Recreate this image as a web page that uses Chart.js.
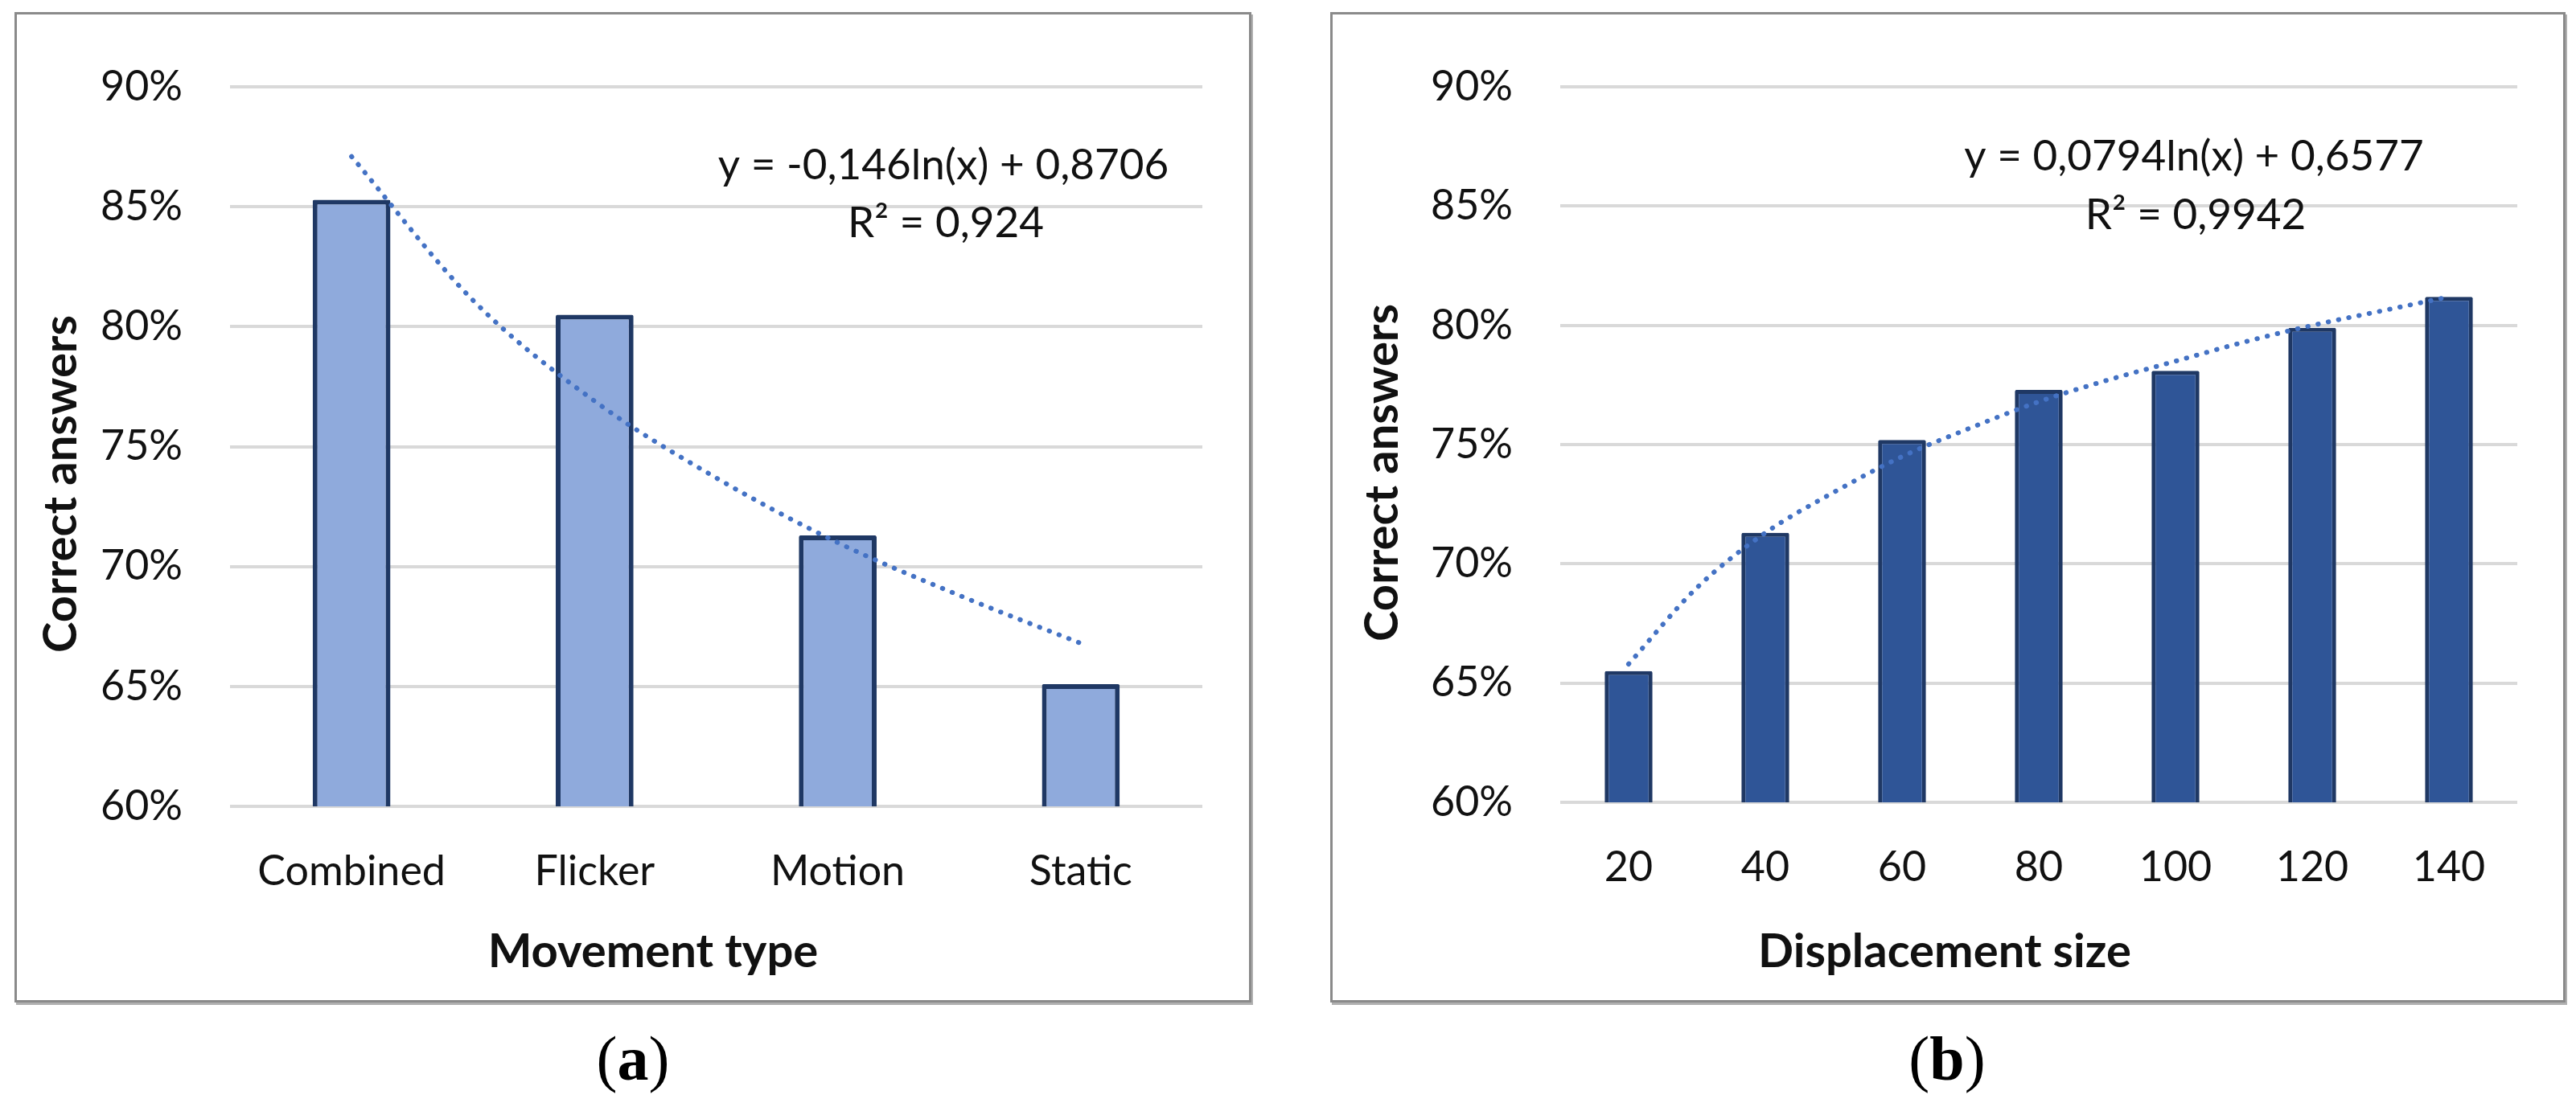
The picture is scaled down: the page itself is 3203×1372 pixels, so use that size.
<!DOCTYPE html>
<html>
<head>
<meta charset="utf-8">
<script src="https://cdn.jsdelivr.net/npm/chart.js@4.4.1/dist/chart.umd.min.js"></script>
<style>
  html, body { margin: 0; padding: 0; background: #fff; }
  body { width: 3203px; height: 1372px; position: relative; overflow: hidden; }
  .box { position: absolute; box-sizing: border-box; border: 3px solid #8a8a8a; box-shadow: 2px 3px 0 #b0b0b0; background: #fff; }
  .box canvas { display: block; }
  .cap { position: absolute; top: 1278px; width: 200px; text-align: center; font-family: 'Liberation Serif', 'DejaVu Serif', serif; font-size: 78px; line-height: 78px; color: #000; }
</style>
</head>
<body>
<div class="box" id="boxA" style="left:18px; top:15px; width:1538px; height:1232px;"><canvas id="chartA"></canvas></div>
<div class="box" id="boxB" style="left:1654px; top:15px; width:1536px; height:1232px;"><canvas id="chartB"></canvas></div>
<div class="cap" style="left:687px;">(<b>a</b>)</div>
<div class="cap" style="left:2321px;">(<b>b</b>)</div>
<script>
// data (percent)
const movementTypes = ['Combined', 'Flicker', 'Motion', 'Static'];
const movementCorrect = [85.3, 80.5, 71.3, 65.1];
const movementTrendX = [0, 0.5, 1, 1.5, 2, 2.5, 3];
const movementTrendY = [87.1, 81.1, 76.9, 73.7, 71.0, 68.8, 66.8];

const displacementSizes = ['20', '40', '60', '80', '100', '120', '140'];
const displacementCorrect = [65.5, 71.3, 75.2, 77.3, 78.1, 79.9, 81.2];
const displacementTrendX = [0, 0.5, 1, 1.5, 2, 2.5, 3, 3.5, 4, 4.5, 5, 5.5, 6];
const displacementTrendY = [65.8, 69.0, 71.3, 73.0, 74.5, 75.7, 76.8, 77.7, 78.5, 79.3, 80.0, 80.6, 81.2];

const yMin = 60, yMax = 90, yStep = 5;

Chart.defaults.font.family = 'Lato, "Open Sans", sans-serif';
Chart.defaults.color = '#111';
Chart.defaults.animation = false;

// draws axis titles and trendline equations at fixed spots
const extraText = {
    id: 'extraText',
    afterDraw(chart, args, opts) {
        const ctx = chart.ctx;
        (opts.items || []).forEach(it => {
            ctx.save();
            ctx.font = it.font;
            ctx.fillStyle = '#111';
            ctx.textAlign = 'center';
            ctx.textBaseline = 'alphabetic';
            ctx.translate(it.x, it.y);
            if (it.rotate) ctx.rotate(-Math.PI / 2);
            ctx.fillText(it.text, 0, 0);
            ctx.restore();
        });
    }
};

function makeChart(id, boxId, labels, values, trendX, trendY, look) {
    const box = document.getElementById(boxId);
    const canvas = document.getElementById(id);
    canvas.width = box.clientWidth;
    canvas.height = box.clientHeight;
    canvas.style.width = box.clientWidth + 'px';
    canvas.style.height = box.clientHeight + 'px';

    return new Chart(canvas.getContext('2d'), {
        type: 'bar',
        data: {
            labels: labels,
            datasets: [{
                type: 'bar',
                xAxisID: 'x',
                data: values,
                backgroundColor: look.fill,
                borderColor: '#1F3864',
                borderWidth: look.border,
                borderSkipped: false,
                borderRadius: 2,
                grouped: false,
                barPercentage: look.barPct,
                categoryPercentage: 1,
                order: 1
            }, {
                type: 'line',
                xAxisID: 'xt',
                data: trendX.map((x, i) => ({ x: x, y: trendY[i] })),
                borderColor: '#4472C4',
                borderWidth: 6,
                borderDash: [0.5, 12.5],
                borderCapStyle: 'round',
                cubicInterpolationMode: 'monotone',
                pointRadius: 0,
                order: 0
            }]
        },
        options: {
            responsive: false,
            devicePixelRatio: 1,
            layout: { padding: { top: look.top, right: look.right, left: 0, bottom: 0 } },
            plugins: {
                legend: { display: false },
                tooltip: { enabled: false },
                extraText: { items: look.texts }
            },
            scales: {
                x: {
                    type: 'category',
                    offset: true,
                    grid: { display: false, drawTicks: false },
                    border: { display: false },
                    ticks: { font: { size: 52 }, padding: 50, maxRotation: 0 },
                    afterFit: s => { s.height = look.xHeight; }
                },
                // hidden linear axis lined up with the category centres, for the trendline
                xt: {
                    type: 'linear',
                    display: false,
                    offset: false,
                    grid: { offset: false },
                    min: -0.5,
                    max: labels.length - 0.5
                },
                y: {
                    min: yMin,
                    max: yMax,
                    ticks: { stepSize: yStep, font: { size: 52 }, padding: 59, callback: v => v + '%' },
                    grid: { color: '#D9D9D9', lineWidth: 4, drawTicks: false },
                    border: { display: false },
                    afterFit: s => { s.width = look.yWidth; }
                }
            }
        },
        plugins: [extraText]
    });
}

const titleFont = 'bold 58px Lato, "Open Sans", sans-serif';
const eqFont = '53px Lato, "Open Sans", sans-serif';

makeChart('chartA', 'boxA', movementTypes, movementCorrect, movementTrendX, movementTrendY, {
    fill: '#8FAADC', border: 6, barPct: 0.32,
    top: 70, right: 58, yWidth: 265, xHeight: 241,
    texts: [
        { text: 'Correct answers', x: 74, y: 584, font: titleFont, rotate: true },
        { text: 'Movement type', x: 791, y: 1185, font: titleFont },
        { text: 'y = -0,146ln(x) + 0,8706', x: 1152, y: 205, font: eqFont },
        { text: 'R² = 0,924', x: 1155, y: 277, font: eqFont }
    ]
});

makeChart('chartB', 'boxB', displacementSizes, displacementCorrect, displacementTrendX, displacementTrendY, {
    fill: '#2F5597', border: 5, barPct: 0.35,
    top: 62, right: 57, yWidth: 283, xHeight: 246,
    texts: [
        { text: 'Correct answers', x: 81, y: 570, font: titleFont, rotate: true },
        { text: 'Displacement size', x: 761, y: 1185, font: titleFont },
        { text: 'y = 0,0794ln(x) + 0,6577', x: 1071, y: 194, font: eqFont },
        { text: 'R² = 0,9942', x: 1073, y: 267, font: eqFont }
    ]
});
</script>
</body>
</html>
